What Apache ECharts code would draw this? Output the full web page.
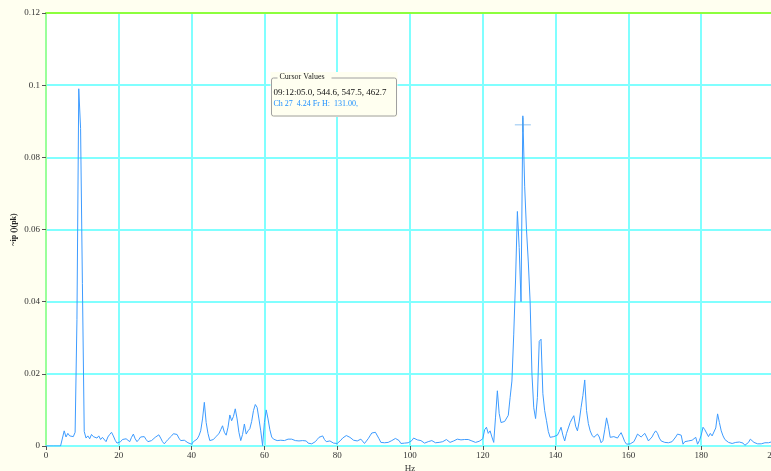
<!DOCTYPE html>
<html><head><meta charset="utf-8">
<script src="https://cdn.jsdelivr.net/npm/echarts@6/dist/echarts.min.js"></script>
<style>html,body{margin:0;padding:0;background:#fffff0;overflow:hidden}#c{width:771px;height:471px}</style>
</head><body><div id="c"></div>
<script>
// Spectrum: amplitude samples every 0.5 Hz from 0 Hz to 200 Hz
var startHz = 0;
var stepHz = 0.5;
var amplitudes = [
0,0,0,0,0,0,0,0,0,0.0002,
0.0042,0.0025,0.0035,0.0028,0.0032,0.0026,0.0038,0.035,0.099,0.088,
0.045,0.004,0.0022,0.0028,0.002,0.0032,0.0026,0.003,0.0022,0.0028,
0.0018,0.0024,0.002,0.0012,0.0025,0.0032,0.0038,0.0028,0.0016,0.0008,
0.0005,0.0012,0.0018,0.0015,0.002,0.0018,0.0012,0.0024,0.0033,0.002,
0.0012,0.0018,0.0025,0.003,0.0026,0.0018,0.0012,0.001,0.0015,0.002,
0.0024,0.0028,0.0031,0.0022,0.0012,0.0006,0.0012,0.0018,0.0022,0.0028,
0.0034,0.0039,0.0032,0.0022,0.0015,0.0012,0.0016,0.0012,0.0009,0.0007,
0.0005,0.0012,0.0015,0.0019,0.0028,0.0042,0.0075,0.0121,0.0065,0.0035,
0.0015,0.0012,0.0018,0.0024,0.0022,0.0034,0.0045,0.0056,0.0038,0.003,
0.0052,0.0086,0.007,0.0082,0.0103,0.0075,0.0038,0.0015,0.0032,0.0061,
0.0033,0.0042,0.0048,0.0068,0.0098,0.0115,0.0107,0.0075,0.0042,0.0001,
0.0065,0.010,0.0075,0.0045,0.0025,0.0019,0.0016,0.0015,0.002,0.0016,
0.0013,0.0015,0.0018,0.0019,0.002,0.0019,0.0017,0.0015,0.0012,0.0014,
0.0016,0.0015,0.0012,0.0014,0.0008,0.0012,0.0006,0.0004,0.0012,0.0018,
0.0024,0.0029,0.0028,0.0018,0.0012,0.001,0.0014,0.0012,0.0008,0.001,
0.0007,0.0012,0.0016,0.0022,0.0026,0.0029,0.0025,0.0024,0.002,0.0016,
0.0018,0.0014,0.0012,0.0019,0.0015,0.0007,0.0012,0.002,0.0028,0.0036,
0.004,0.0038,0.0035,0.002,0.001,0.0012,0.0009,0.0014,0.001,0.0012,
0.0015,0.0018,0.0021,0.0022,0.0015,0.0007,0.001,0.0008,0.0012,0.0009,
0.0007,0.0015,0.0022,0.0026,0.0017,0.002,0.0015,0.0011,0.0008,0.0009,
0.0012,0.0007,0.0015,0.0012,0.0009,0.0011,0.001,0.0013,0.0012,0.0016,
0.0018,0.0013,0.001,0.0012,0.0014,0.0017,0.0019,0.002,0.0017,0.0013,
0.0018,0.0022,0.0018,0.002,0.0014,0.0012,0.001,0.0011,0.0013,0.0015,
0.002,0.0045,0.0052,0.0035,0.0042,0.0025,0.001,0.008,0.0153,0.009,
0.0065,0.0062,0.0068,0.0072,0.0085,0.0134,0.018,0.031,0.046,0.065,
0.055,0.040,0.0915,0.072,0.060,0.051,0.040,0.020,0.0106,0.0076,
0.0134,0.029,0.0296,0.0145,0.0098,0.007,0.004,0.0024,0.0022,0.0026,
0.0024,0.003,0.004,0.0052,0.003,0.0014,0.0035,0.005,0.0065,0.0075,
0.0084,0.0055,0.0042,0.0069,0.0107,0.014,0.0183,0.0098,0.0062,0.0042,
0.003,0.0024,0.0028,0.0033,0.0025,0.0009,0.0015,0.0045,0.0078,0.0055,
0.0024,0.0022,0.0026,0.0029,0.0022,0.003,0.0037,0.0025,0.0012,0.0005,
0.0008,0.0006,0.0007,0.0012,0.0022,0.0033,0.003,0.0025,0.0028,0.0035,
0.0025,0.0014,0.0018,0.0025,0.0035,0.0042,0.0035,0.0022,0.0014,0.0012,
0.001,0.0011,0.0009,0.001,0.0012,0.0015,0.0025,0.0033,0.0028,0.003,
0.0005,0.0012,0.0014,0.0014,0.0012,0.0016,0.002,0.0024,0.0005,0.0015,
0.003,0.0052,0.0045,0.0042,0.0026,0.0035,0.0028,0.003,0.005,0.0089,
0.0065,0.0042,0.0028,0.0018,0.0014,0.001,0.0005,0.0007,0.0009,0.001,
0.0011,0.0011,0.001,0.0008,0.0002,0.0004,0.001,0.0019,0.0015,0.001,
0.0008,0.0006,0.0005,0.0006,0.0008,0.0009,0.0008,0.0009,0.0009,0.0012,
0.0014
];
var cursorPoint = [131, 0.089];
var cursorTitle = 'Cursor Values';
var cursorLine1 = '09:12:05.0, 544.6, 547.5, 462.7';
var cursorLine2 = 'Ch 27  4.24 Fr H:  131.00,';
var xName = 'Hz';
var yName = '~ip ()(pk)';

var seriesData = amplitudes.map(function (v, i) { return [startHz + i * stepHz, v]; });
var font = 'Liberation Serif';

var chart = echarts.init(document.getElementById('c'), null, {renderer: 'canvas'});
chart.setOption({
  animation: false,
  backgroundColor: '#fffff0',
  grid: {left: 46, right: -3, top: 13, bottom: 25, outerBoundsMode: 'none', containLabel: false,
         show: true, backgroundColor: '#ffffff', borderWidth: 0},
  xAxis: [{
    type: 'value', min: 0, max: 200, interval: 20,
    name: xName, nameLocation: 'middle', nameGap: 18, nameMoveOverlap: false,
    nameTextStyle: {fontFamily: font, fontSize: 9, color: '#333'},
    axisLine: {show: true, lineStyle: {color: '#80ffff', width: 2}},
    axisTick: {show: true, length: 4, lineStyle: {color: '#555', width: 1}},
    axisLabel: {fontFamily: font, fontSize: 9, color: '#333', margin: 5, hideOverlap: false},
    splitLine: {show: true, lineStyle: {color: '#80ffff', width: 2}}
  }, {
    type: 'value', min: 0, max: 200, position: 'top',
    axisLine: {show: true, onZero: false, lineStyle: {color: '#8cff3c', width: 2}},
    axisTick: {show: false}, axisLabel: {show: false}, splitLine: {show: false}
  }],
  yAxis: {
    type: 'value', min: 0, max: 0.12, interval: 0.02,
    name: yName, nameLocation: 'middle', nameGap: 28, nameRotate: 90, nameMoveOverlap: false,
    nameTextStyle: {fontFamily: font, fontSize: 8, color: '#222', fontWeight: 'bold'},
    axisLine: {show: true, lineStyle: {color: '#99ff99', width: 2}},
    axisTick: {show: true, length: 4, lineStyle: {color: '#555', width: 1}},
    axisLabel: {fontFamily: font, fontSize: 9, color: '#333', margin: 6},
    splitLine: {show: true, lineStyle: {color: '#80ffff', width: 2}}
  },
  series: [{
    type: 'line', data: seriesData, showSymbol: false, symbol: 'none',
    lineStyle: {color: '#3d9bff', width: 1}, z: 5
  }, {
    type: 'scatter', data: [cursorPoint], xAxisIndex: 0,
    symbol: 'path://M0,5L10,5M5,0L5,10', symbolSize: [16, 14],
    itemStyle: {color: 'none', borderColor: '#4a9ee8', borderWidth: 1}, z: 6
  }],
  graphic: [{
    type: 'group', left: 269, top: 72, z: 100,
    children: [
      {type: 'rect', z: 100, shape: {x: 0, y: 0, width: 127, height: 45}, style: {fill: '#fffff0', stroke: 'none'}},
      {type: 'rect', z: 101, shape: {x: 1, y: 6, width: 125, height: 38, r: 2}, style: {fill: 'none', stroke: '#a0a0a0', lineWidth: 1}},
      {type: 'rect', z: 102, shape: {x: 7, y: 2, width: 54, height: 8}, style: {fill: '#fffff0', stroke: 'none'}},
      {type: 'text', z: 103, x: 9, y: 1, style: {text: cursorTitle, font: '8px "Liberation Serif"', fill: '#222'}},
      {type: 'text', z: 103, x: 3, y: 16, style: {text: cursorLine1, font: '9px "Liberation Serif"', fill: '#111'}},
      {type: 'text', z: 103, x: 3, y: 28, style: {text: cursorLine2, font: '8px "Liberation Serif"', fill: '#1e90ff'}}
    ]
  }]
});
</script>
</body></html>
